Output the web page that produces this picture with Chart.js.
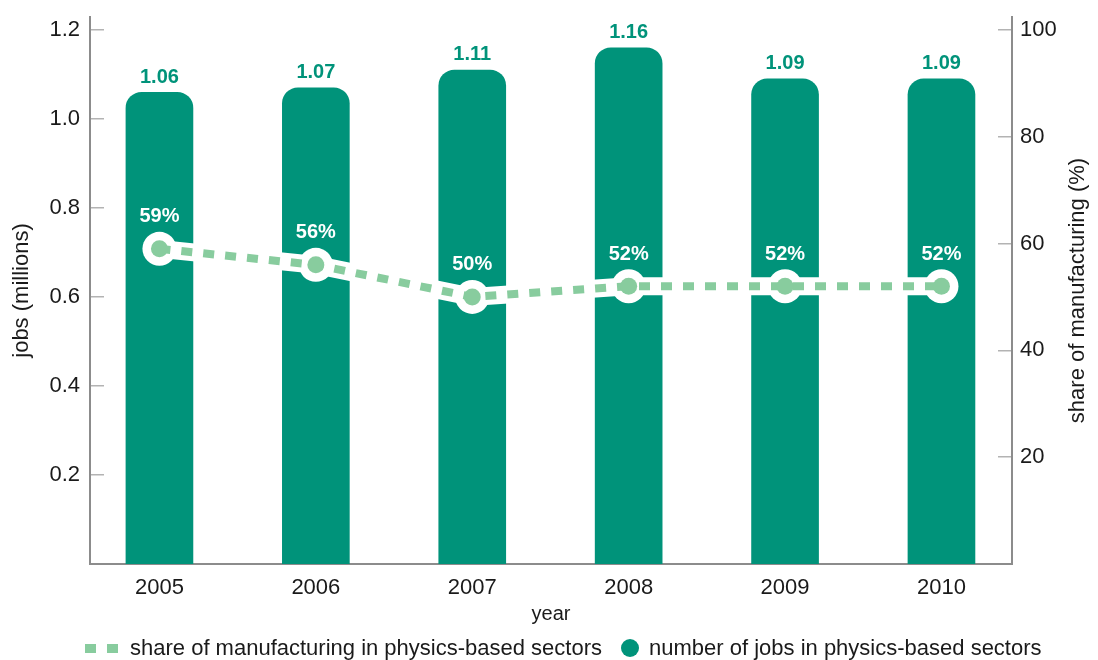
<!DOCTYPE html>
<html>
<head>
<meta charset="utf-8">
<title>Jobs in physics-based sectors</title>
<script src="https://cdn.jsdelivr.net/npm/chart.js@4.4.1/dist/chart.umd.min.js"></script>
<style>
  html, body { margin: 0; background: #fff; }
  .wrap { position: relative; width: 1098px; height: 660px; }
  .legend {
    position: absolute; left: 85px; top: 634px; height: 28px;
    display: flex; align-items: center;
    font: 22px "Liberation Sans", Arial, sans-serif; color: #1a1a1a;
  }
  .legend .dash { display: inline-block; width: 11px; height: 9px; background: #88cc9e; }
  .legend .dash + .dash { margin-left: 11px; }
  .legend .dot { display: inline-block; width: 18px; height: 18px; border-radius: 50%; background: #00937a; }
  .legend .label { margin-left: 12px; }
  .legend .gap { width: 19px; }
</style>
</head>
<body>
<div class="wrap">
  <canvas id="chart"></canvas>
  <div class="legend">
    <span class="dash"></span><span class="dash"></span>
    <span class="label">share of manufacturing in physics-based sectors</span>
    <span class="gap"></span>
    <span class="dot"></span>
    <span class="label" style="margin-left:10px">number of jobs in physics-based sectors</span>
  </div>
</div>
<script>
const years = ["2005", "2006", "2007", "2008", "2009", "2010"];
const jobsMillions = [1.06, 1.07, 1.11, 1.16, 1.09, 1.09];
const manufacturingShare = [59, 56, 50, 52, 52, 52];
const jobTicks = [0.2, 0.4, 0.6, 0.8, 1.0, 1.2];
const shareTicks = [20, 40, 60, 80, 100];

const TEAL = "#00937a";
const MINT = "#88cc9e";
const INK = "#1a1a1a";
const AXIS = "#8c8c8c";
const TICK = "#b3b3b3";
const FONT = "'Liberation Sans', Arial, sans-serif";

Chart.defaults.font.family = FONT;
Chart.defaults.color = INK;

// Bars and the share line sit on a numeric x axis so the end gaps can be set directly.
const barPoints = jobsMillions.map((v, i) => ({ x: i, y: v }));
const sharePoints = manufacturingShare.map((v, i) => ({ x: i, y: v }));

// Vertical axes: fixed width, and no extra room reserved for half-labels.
const fixWidth = (width) => (scale) => {
  scale.width = width;
  scale.paddingTop = 0;
  scale.paddingBottom = 0;
};

// Value labels above each bar and each share marker.
const valueLabels = {
  id: "valueLabels",
  afterDatasetsDraw(chart) {
    const { ctx } = chart;
    ctx.save();
    ctx.textAlign = "center";
    ctx.textBaseline = "middle";

    ctx.font = `bold 20px ${FONT}`;
    ctx.fillStyle = TEAL;
    chart.getDatasetMeta(0).data.forEach((bar, i) => {
      ctx.fillText(jobsMillions[i].toFixed(2), bar.x, bar.y - 15);
    });

    ctx.fillStyle = "#ffffff";
    chart.getDatasetMeta(2).data.forEach((pt, i) => {
      ctx.fillText(`${manufacturingShare[i]}%`, pt.x, pt.y - 32);
    });
    ctx.restore();
  }
};

// The right axis title reads bottom-to-top, like the left one.
const rightTitle = {
  id: "rightTitle",
  afterDraw(chart) {
    const { ctx, chartArea } = chart;
    const scale = chart.scales.y1;
    ctx.save();
    ctx.translate(scale.right - 20, (chartArea.top + chartArea.bottom) / 2);
    ctx.rotate(-Math.PI / 2);
    ctx.font = `22px ${FONT}`;
    ctx.fillStyle = INK;
    ctx.textAlign = "center";
    ctx.textBaseline = "middle";
    ctx.fillText("share of manufacturing (%)", 0, 0);
    ctx.restore();
  }
};

new Chart(document.getElementById("chart"), {
  type: "bar",
  data: {
    datasets: [
      {
        type: "bar",
        label: "number of jobs in physics-based sectors",
        data: barPoints,
        yAxisID: "y",
        backgroundColor: TEAL,
        barThickness: 67,
        borderRadius: 16,
        order: 3
      },
      {
        // white halo under the dashed line and its markers
        type: "line",
        label: "halo",
        data: sharePoints,
        yAxisID: "y1",
        borderColor: "#ffffff",
        borderWidth: 18,
        pointRadius: 17,
        pointBackgroundColor: "#ffffff",
        pointBorderWidth: 0,
        tension: 0,
        order: 2
      },
      {
        type: "line",
        label: "share of manufacturing in physics-based sectors",
        data: sharePoints,
        yAxisID: "y1",
        borderColor: MINT,
        borderWidth: 8,
        borderDash: [11, 11],
        borderCapStyle: "butt",
        pointRadius: 8.5,
        pointBackgroundColor: MINT,
        pointBorderWidth: 0,
        tension: 0,
        order: 1
      }
    ]
  },
  options: {
    responsive: true,
    maintainAspectRatio: false,
    animation: false,
    layout: { padding: { top: 15, left: 0, right: 0, bottom: 0 } },
    plugins: {
      legend: { display: false },
      tooltip: { enabled: false }
    },
    scales: {
      x: {
        type: "linear",
        min: -0.444,
        max: 5.451,
        offset: false,
        grid: { display: false, drawTicks: false },
        border: { color: AXIS, width: 2 },
        afterBuildTicks: (scale) => {
          scale.ticks = years.map((_, i) => ({ value: i }));
        },
        afterFit: (scale) => {
          scale.height = 96;
          scale.paddingLeft = 0;
          scale.paddingRight = 0;
        },
        ticks: {
          padding: 11,
          maxRotation: 0,
          autoSkip: false,
          font: { size: 22 },
          callback: (value) => years[value]
        },
        title: {
          display: true,
          text: "year",
          font: { size: 20 },
          padding: { top: 0, bottom: 34 }
        }
      },
      y: {
        position: "left",
        min: 0,
        max: 1.229,
        afterBuildTicks: (scale) => {
          scale.ticks = jobTicks.map((v) => ({ value: v }));
        },
        afterFit: fixWidth(90),
        grid: { drawOnChartArea: false, tickLength: -14, color: TICK, lineWidth: 1.5 },
        border: { color: AXIS, width: 2 },
        ticks: {
          padding: 24,
          font: { size: 22 },
          callback: (value) => value.toFixed(1)
        },
        title: {
          display: true,
          text: "jobs (millions)",
          font: { size: 22 },
          padding: { top: 9, bottom: 0 }
        }
      },
      y1: {
        position: "right",
        min: 0,
        max: 102.4,
        afterBuildTicks: (scale) => {
          scale.ticks = shareTicks.map((v) => ({ value: v }));
        },
        afterFit: fixWidth(86),
        grid: { drawOnChartArea: false, tickLength: -14, color: TICK, lineWidth: 1.5 },
        border: { color: AXIS, width: 2 },
        ticks: {
          padding: 22,
          font: { size: 22 },
          callback: (value) => String(value)
        }
      }
    }
  },
  plugins: [valueLabels, rightTitle]
});
</script>
</body>
</html>
